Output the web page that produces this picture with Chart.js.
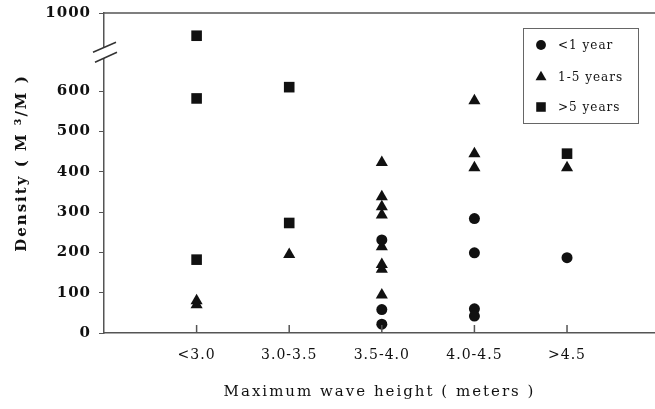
<!DOCTYPE html>
<html>
<head>
<meta charset="utf-8">
<script src="https://cdn.jsdelivr.net/npm/chart.js@4.4.0/dist/chart.umd.min.js"></script>
<style>
    html, body { margin: 0; padding: 0; background: #fff; }
    #wrap { width: 655px; height: 409px; }
</style>
</head>
<body>
<div id="wrap"><canvas id="chart" width="655" height="409"></canvas></div>
<script>
// Categories and tick labels
const categories = ['<3.0', '3.0-3.5', '3.5-4.0', '4.0-4.5', '>4.5'];
const yTickValues = [0, 100, 200, 300, 400, 500, 600, 1000];

// <1 year (circles)
const under1Cat = ['3.5-4.0', '3.5-4.0', '3.5-4.0', '4.0-4.5', '4.0-4.5', '4.0-4.5', '4.0-4.5', '>4.5'];
const under1Val = [231, 58, 22, 284, 199, 60, 42, 187];

// 1-5 years (triangles)
const oneToFiveCat = ['<3.0', '<3.0', '3.0-3.5',
    '3.5-4.0', '3.5-4.0', '3.5-4.0', '3.5-4.0', '3.5-4.0', '3.5-4.0', '3.5-4.0', '3.5-4.0',
    '4.0-4.5', '4.0-4.5', '4.0-4.5', '>4.5'];
const oneToFiveVal = [80, 70, 195, 423, 338, 313, 293, 214, 170, 158, 94, 576, 445, 410, 410];

// >5 years (squares)
const over5Cat = ['<3.0', '<3.0', '<3.0', '3.0-3.5', '3.0-3.5', '>4.5'];
const over5Val = [940, 582, 182, 610, 273, 445];

// Broken y axis: 0-700 linear, then 900-1000 squeezed on top
const LOWER_TOP = 700;
const UPPER_FROM = 900;
const UPPER_SCALE = 0.94;
const BREAK_MARK = 694;

function toAxis(v) {
    return v <= LOWER_TOP ? v : LOWER_TOP + (v - UPPER_FROM) * UPPER_SCALE;
}

function toPoints(cats, vals) {
    return cats.map((c, i) => ({ x: categories.indexOf(c) + 1, y: toAxis(vals[i]) }));
}

const INK = '#111';
const AXIS = '#555';
const SERIF = '"DejaVu Serif", serif';

const datasets = [
    { label: '<1 year', data: toPoints(under1Cat, under1Val), pointStyle: 'circle', pointRadius: 5.5 },
    { label: '1-5 years', data: toPoints(oneToFiveCat, oneToFiveVal), pointStyle: 'triangle', pointRadius: 7 },
    { label: '>5 years', data: toPoints(over5Cat, over5Val), pointStyle: 'rect', pointRadius: 7.5 }
].map(d => Object.assign(d, {
    backgroundColor: INK,
    borderColor: INK,
    borderWidth: 0,
    pointHoverRadius: d.pointRadius
}));

// Extra drawing: top frame line, inner x tick marks, axis break, titles, legend box
const decorations = {
    id: 'decorations',
    beforeDraw(chart) {
        chart.ctx.letterSpacing = '1px';
    },
    afterDraw(chart) {
        const ctx = chart.ctx;
        const area = chart.chartArea;
        const xs = chart.scales.x;
        const ys = chart.scales.y;
        ctx.save();

        ctx.strokeStyle = AXIS;
        ctx.lineWidth = 1.5;
        ctx.beginPath();
        ctx.moveTo(area.left, area.top);
        ctx.lineTo(area.right, area.top);
        ctx.stroke();

        categories.forEach((c, i) => {
            const px = xs.getPixelForValue(i + 1);
            ctx.beginPath();
            ctx.moveTo(px, area.bottom);
            ctx.lineTo(px, area.bottom - 8);
            ctx.stroke();
        });

        // axis break
        const bx = area.left;
        const by = ys.getPixelForValue(BREAK_MARK);
        ctx.fillStyle = '#fff';
        ctx.beginPath();
        ctx.moveTo(bx - 11, by - 1);
        ctx.lineTo(bx + 12, by - 11);
        ctx.lineTo(bx + 13, by - 1);
        ctx.lineTo(bx - 9, by + 9);
        ctx.closePath();
        ctx.fill();
        ctx.strokeStyle = '#333';
        ctx.beginPath();
        ctx.moveTo(bx - 11, by - 1);
        ctx.lineTo(bx + 12, by - 11);
        ctx.moveTo(bx - 9, by + 9);
        ctx.lineTo(bx + 13, by - 1);
        ctx.stroke();

        // axis titles
        ctx.fillStyle = INK;
        ctx.textAlign = 'center';
        ctx.textBaseline = 'middle';
        ctx.letterSpacing = '2px';
        ctx.font = '15px ' + SERIF;
        ctx.fillText('Maximum wave height ( meters )', (area.left + area.right) / 2, 392);

        ctx.save();
        ctx.translate(22, 163);
        ctx.rotate(-Math.PI / 2);
        ctx.letterSpacing = '2px';
        ctx.font = 'bold 15px ' + SERIF;
        ctx.fillText('Density ( M \u00B3/M )', 0, 0);
        ctx.restore();

        // legend
        ctx.letterSpacing = '1px';
        ctx.strokeStyle = '#666';
        ctx.lineWidth = 1;
        ctx.strokeRect(523.5, 28.5, 115, 95);
        const rows = [45, 77, 107];
        ctx.font = '12px ' + SERIF;
        ctx.textAlign = 'left';
        chart.data.datasets.forEach((d, i) => {
            ctx.fillStyle = INK;
            Chart.helpers.drawPoint(ctx, {
                pointStyle: d.pointStyle,
                radius: d.pointRadius * 0.9,
                rotation: 0,
                borderWidth: 0
            }, 541, rows[i]);
            ctx.fillText(d.label, 558, rows[i] + 1);
        });

        ctx.restore();
        ctx.letterSpacing = '0px';
    }
};

const ctx = document.getElementById('chart').getContext('2d');
new Chart(ctx, {
    type: 'scatter',
    data: { datasets: datasets },
    options: {
        responsive: false,
        animation: false,
        layout: { autoPadding: false, padding: { top: 13, left: 0, right: 0, bottom: 0 } },
        plugins: {
            legend: { display: false },
            tooltip: { enabled: false }
        },
        scales: {
            x: {
                type: 'linear',
                min: 0,
                max: 5.95,
                afterBuildTicks: s => { s.ticks = categories.map((c, i) => ({ value: i + 1 })); },
                afterFit: s => { s.height = 76; s.paddingLeft = 0; s.paddingRight = 0; },
                ticks: {
                    callback: v => categories[v - 1] || '',
                    color: INK,
                    font: { family: SERIF, size: 14 },
                    padding: 14,
                    maxRotation: 0,
                    autoSkip: false
                },
                grid: { display: false, drawTicks: false },
                border: { display: true, color: AXIS, width: 1.5 }
            },
            y: {
                min: 0,
                max: toAxis(1000),
                afterBuildTicks: s => { s.ticks = yTickValues.map(v => ({ value: toAxis(v) })); },
                afterFit: s => { s.width = 104; s.paddingTop = 0; s.paddingBottom = 0; },
                ticks: {
                    callback: v => {
                        const i = yTickValues.findIndex(t => Math.abs(toAxis(t) - v) < 0.01);
                        return i >= 0 ? String(yTickValues[i]) : '';
                    },
                    color: INK,
                    font: { family: SERIF, size: 15, weight: 'bold' },
                    padding: 8
                },
                grid: { drawOnChartArea: false, drawTicks: true, tickLength: 5, color: AXIS },
                border: { display: true, color: AXIS, width: 1.5 }
            }
        }
    },
    plugins: [decorations]
});
</script>
</body>
</html>
